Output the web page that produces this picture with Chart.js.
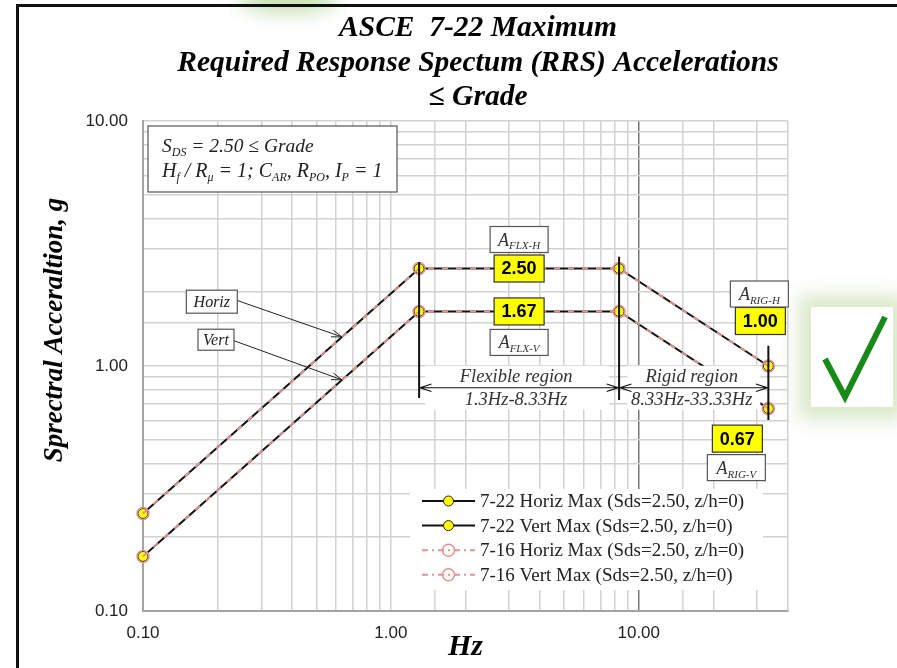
<!DOCTYPE html>
<html>
<head>
<meta charset="utf-8">
<script src="https://cdn.jsdelivr.net/npm/chart.js@4.4.1/dist/chart.umd.min.js"></script>
<style>
  html, body { margin: 0; padding: 0; background: #fff; }
  #page { position: relative; width: 897px; height: 668px; overflow: hidden; background: #fff; }
  #glowTop { position: absolute; left: 238px; top: -16px; width: 100px; height: 30px; background: rgba(165, 205, 135, 0.6); filter: blur(9px); border-radius: 50%; }
  #frame { position: absolute; left: 16px; top: 4px; width: 900px; height: 680px; border-top: 3px solid #111; border-left: 3px solid #111; }
  #chartBox { position: absolute; left: 0; top: 0; width: 897px; height: 668px; }
  #check { position: absolute; left: 811px; top: 307px; width: 82px; height: 100px; background: #fff; box-shadow: 0 0 18px 12px rgba(195, 220, 170, 0.65); }
</style>
</head>
<body>
<div id="page">
  <div id="glowTop"></div>
  <div id="frame"></div>
  <div id="chartBox"><canvas id="rrsChart"></canvas></div>
  <div id="check">
    <svg width="82" height="100" viewBox="0 0 82 100">
      <polyline points="14,52 34,90 74,10" fill="none" stroke="#178a17" stroke-width="6" stroke-linejoin="miter"/>
    </svg>
  </div>
</div>
<script>
// spectrum corner frequencies and accelerations
const freqHz = [0.1, 1.3, 8.33, 33.33];
const horiz722 = [0.25, 2.5, 2.5, 1.0];
const vert722 = [0.167, 1.67, 1.67, 0.67];
const horiz716 = [0.25, 2.5, 2.5, 1.0];
const vert716 = [0.167, 1.67, 1.67, 0.67];
const seriesNames = [
  '7-22 Horiz Max (Sds=2.50, z/h=0)',
  '7-22 Vert Max (Sds=2.50, z/h=0)',
  '7-16 Horiz Max (Sds=2.50, z/h=0)',
  '7-16 Vert Max (Sds=2.50, z/h=0)'
];
const xLabelledTicks = [0.1, 1, 10];
const yLabelledTicks = [0.1, 1, 10];

const SERIF = '"Liberation Serif", "Times New Roman", serif';
const SANS = '"Liberation Sans", Arial, sans-serif';

const BLACK = '#111';
const PINK = '#e39393';
const YELLOW = '#ffff00';

function pts(xs, ys) {
  return xs.map((x, i) => ({ x, y: ys[i] }));
}

function isLabelled(v, list) {
  return list.some(t => Math.abs(v - t) < 1e-9);
}

// text with subscripts: parts are [text, isSub]
function drawRich(ctx, parts, x, y, size, align) {
  const fontMain = `italic ${size}px ${SERIF}`;
  const fontSub = `italic ${Math.round(size * 0.62)}px ${SERIF}`;
  let w = 0;
  parts.forEach(([t, sub]) => {
    ctx.font = sub ? fontSub : fontMain;
    w += ctx.measureText(t).width;
  });
  let cx = align === 'center' ? x - w / 2 : x;
  ctx.textAlign = 'left';
  ctx.textBaseline = 'alphabetic';
  parts.forEach(([t, sub]) => {
    ctx.font = sub ? fontSub : fontMain;
    ctx.fillText(t, cx, sub ? y + size * 0.22 : y);
    cx += ctx.measureText(t).width;
  });
}

function box(ctx, cx, cy, w, h, fill, stroke) {
  ctx.fillStyle = fill;
  ctx.fillRect(cx - w / 2, cy - h / 2, w, h);
  ctx.strokeStyle = stroke;
  ctx.lineWidth = 1.2;
  ctx.strokeRect(cx - w / 2, cy - h / 2, w, h);
}

function arrow(ctx, x1, y1, x2, y2, head) {
  ctx.beginPath();
  ctx.moveTo(x1, y1);
  ctx.lineTo(x2, y2);
  const a = Math.atan2(y2 - y1, x2 - x1);
  ctx.moveTo(x2 - head * Math.cos(a - 0.32), y2 - head * Math.sin(a - 0.32));
  ctx.lineTo(x2, y2);
  ctx.lineTo(x2 - head * Math.cos(a + 0.32), y2 - head * Math.sin(a + 0.32));
  ctx.stroke();
}

// log-log interpolation on the rising branch
function onRise(vals, f) {
  const t = (Math.log10(f) - Math.log10(freqHz[0])) / (Math.log10(freqHz[1]) - Math.log10(freqHz[0]));
  return Math.pow(10, Math.log10(vals[0]) + t * (Math.log10(vals[1]) - Math.log10(vals[0])));
}

const decorPlugin = {
  id: 'decor',
  afterDatasetsDraw(chart) {
    const ctx = chart.ctx;
    const X = v => chart.scales.x.getPixelForValue(v);
    const Y = v => chart.scales.y.getPixelForValue(v);
    const area = chart.chartArea;
    ctx.save();

    // info box
    box(ctx, (148 + 397) / 2, (126 + 192) / 2, 249, 66, '#fff', '#555');
    ctx.fillStyle = '#222';
    drawRich(ctx, [['S', false], ['DS', true], [' = 2.50 ≤ Grade', false]], 162, 152, 19.5, 'left');
    drawRich(ctx, [['H', false], ['f', true], [' / R', false], ['μ', true], [' = 1; C', false], ['AR', true],
      [', R', false], ['PO', true], [', I', false], ['P', true], [' = 1', false]], 162, 177, 20, 'left');

    // flexible / rigid region bands
    const arrowY = Y(0.815);
    const fx1 = X(freqHz[1]), fx2 = X(freqHz[2]), fx3 = X(freqHz[3]);
    ctx.fillStyle = '#fff';
    ctx.fillRect(fx1 + 6, arrowY - 22, fx2 - fx1 - 16, 44);
    ctx.fillRect(fx2 + 8, arrowY - 22, fx3 - fx2 - 16, 44);

    ctx.strokeStyle = BLACK;
    ctx.lineWidth = 2;
    ctx.beginPath();
    ctx.moveTo(fx1, Y(2.66)); ctx.lineTo(fx1, Y(0.74));
    ctx.moveTo(fx2, Y(2.79)); ctx.lineTo(fx2, Y(0.727));
    ctx.moveTo(fx3, Y(1.21)); ctx.lineTo(fx3, Y(0.602));
    ctx.stroke();

    ctx.lineWidth = 1.2;
    arrow(ctx, (fx1 + fx2) / 2, arrowY, fx1 + 1, arrowY, 12);
    arrow(ctx, (fx1 + fx2) / 2, arrowY, fx2 - 1, arrowY, 12);
    arrow(ctx, (fx2 + fx3) / 2, arrowY, fx2 + 1, arrowY, 12);
    arrow(ctx, (fx2 + fx3) / 2, arrowY, fx3 - 1, arrowY, 12);

    ctx.fillStyle = '#333';
    ctx.font = `italic 18.5px ${SERIF}`;
    ctx.textAlign = 'center';
    ctx.textBaseline = 'middle';
    ctx.fillText('Flexible region', (fx1 + fx2) / 2 - 3, arrowY - 11);
    ctx.fillText('1.3Hz-8.33Hz', (fx1 + fx2) / 2 - 3, arrowY + 12);
    ctx.fillText('Rigid region', (fx2 + fx3) / 2 - 2, arrowY - 11);
    ctx.fillText('8.33Hz-33.33Hz', (fx2 + fx3) / 2 - 2, arrowY + 12);

    // value boxes
    const midX = X(Math.sqrt(freqHz[1] * freqHz[2]));
    const valueBox = (cx, cy, v) => {
      box(ctx, cx, cy, 50, 27, YELLOW, '#333');
      ctx.fillStyle = '#000';
      ctx.font = `bold 18px ${SANS}`;
      ctx.textAlign = 'center';
      ctx.textBaseline = 'middle';
      ctx.fillText(v.toFixed(2), cx, cy + 1);
    };
    const nameBox = (cx, cy, sub) => {
      box(ctx, cx, cy, 58, 26, '#fff', '#555');
      ctx.fillStyle = '#333';
      drawRich(ctx, [['A', false], [sub, true]], cx, cy + 6, 18, 'center');
    };
    valueBox(midX, Y(horiz722[1]), horiz722[1]);
    valueBox(midX, Y(vert722[1]), vert722[1]);
    nameBox(midX, Y(horiz722[1]) - 29, 'FLX-H');
    nameBox(midX, Y(vert722[1]) + 31, 'FLX-V');
    valueBox(fx3 - 8, Y(horiz722[3]) - 45, horiz722[3]);
    nameBox(fx3 - 9, Y(horiz722[3]) - 72, 'RIG-H');
    valueBox(fx3 - 31, Y(vert722[3]) + 30, vert722[3]);
    nameBox(fx3 - 32, Y(vert722[3]) + 59, 'RIG-V');

    // Horiz / Vert callouts
    const tipF = 0.635;
    const hx = X(0.1895), hy = Y(1.83);
    const vx = X(0.197), vy = Y(1.28);
    ctx.strokeStyle = '#222';
    ctx.lineWidth = 1;
    arrow(ctx, hx + 26, hy - 1, X(tipF), Y(onRise(horiz722, tipF)), 11);
    arrow(ctx, vx + 18, vy + 1, X(tipF), Y(onRise(vert722, tipF)), 11);
    box(ctx, hx, hy, 51, 23, '#fff', '#555');
    box(ctx, vx, vy, 36, 21, '#fff', '#555');
    ctx.fillStyle = '#222';
    ctx.font = `italic 16px ${SERIF}`;
    ctx.textAlign = 'center';
    ctx.textBaseline = 'middle';
    ctx.fillText('Horiz', hx, hy + 1);
    ctx.fillText('Vert', vx, vy + 1);

    // legend
    const lgRight = area.right - 25, lgBottom = area.bottom - 21;
    ctx.fillStyle = '#fff';
    ctx.fillRect(lgRight - 353, lgBottom - 101, 353, 101);
    chart.data.datasets.forEach((ds, i) => {
      const ry = lgBottom - 89 + i * 24.6;
      const x0 = lgRight - 341, x1 = lgRight - 288, mx = (x0 + x1) / 2;
      ctx.strokeStyle = ds.borderColor;
      ctx.lineWidth = 2;
      ctx.setLineDash(ds.legendDash || []);
      ctx.beginPath();
      ctx.moveTo(x0, ry); ctx.lineTo(x1, ry);
      ctx.stroke();
      ctx.setLineDash([]);
      ctx.beginPath();
      ctx.arc(mx, ry, ds.pointRadius, 0, Math.PI * 2);
      if (ds.pointBackgroundColor !== 'transparent') {
        ctx.fillStyle = ds.pointBackgroundColor;
        ctx.fill();
      }
      ctx.strokeStyle = ds.pointBorderColor;
      ctx.lineWidth = ds.pointBorderWidth;
      ctx.stroke();
      ctx.fillStyle = '#222';
      ctx.font = `19px ${SERIF}`;
      ctx.textAlign = 'left';
      ctx.textBaseline = 'middle';
      ctx.fillText(ds.label, x1 + 5, ry + 1);
    });

    ctx.restore();
  },
  afterDraw(chart) {
    const ctx = chart.ctx;
    const area = chart.chartArea;
    ctx.save();
    ctx.fillStyle = '#000';
    ctx.textAlign = 'center';
    ctx.textBaseline = 'middle';
    ctx.font = `bold italic 29.5px ${SERIF}`;
    ctx.fillText('ASCE  7-22 Maximum', 478, 28);
    ctx.fillText('Required Response Spectum (RRS) Accelerations', 478, 63);
    ctx.fillText('≤ Grade', 478, 97);

    ctx.font = `bold italic 30px ${SERIF}`;
    ctx.fillText('Hz', (area.left + area.right) / 2, 647);

    ctx.translate(55, 330);
    ctx.rotate(-Math.PI / 2);
    ctx.font = `bold italic 27px ${SERIF}`;
    ctx.fillText('Sprectral Acceraltion, g', 0, 0);
    ctx.restore();
  }
};

new Chart(document.getElementById('rrsChart'), {
  type: 'line',
  data: {
    datasets: [
      {
        label: seriesNames[0], data: pts(freqHz, horiz722), order: 2,
        borderColor: BLACK, borderWidth: 2,
        pointRadius: 5, pointBackgroundColor: YELLOW, pointBorderColor: '#222', pointBorderWidth: 1
      },
      {
        label: seriesNames[1], data: pts(freqHz, vert722), order: 2,
        borderColor: BLACK, borderWidth: 2,
        pointRadius: 5, pointBackgroundColor: YELLOW, pointBorderColor: '#222', pointBorderWidth: 1
      },
      {
        label: seriesNames[2], data: pts(freqHz, horiz716), order: 1,
        borderColor: PINK, borderWidth: 2, borderDash: [6, 8], legendDash: [6, 4, 2, 4],
        pointRadius: 6, pointBackgroundColor: 'transparent', pointBorderColor: PINK, pointBorderWidth: 1.5
      },
      {
        label: seriesNames[3], data: pts(freqHz, vert716), order: 1,
        borderColor: PINK, borderWidth: 2, borderDash: [6, 8], legendDash: [6, 4, 2, 4],
        pointRadius: 6, pointBackgroundColor: 'transparent', pointBorderColor: PINK, pointBorderWidth: 1.5
      }
    ]
  },
  options: {
    responsive: true,
    maintainAspectRatio: false,
    animation: false,
    events: [],
    clip: false,
    layout: { padding: { top: 121, right: 109, left: 0, bottom: 0 } },
    plugins: {
      legend: { display: false },
      title: { display: false },
      tooltip: { enabled: false }
    },
    scales: {
      x: {
        type: 'logarithmic',
        min: 0.1,
        max: 40,
        afterFit: s => { s.height = 57; },
        grid: {
          drawTicks: false,
          color: ctx => Math.abs(ctx.tick.value - 10) < 1e-9 ? '#777' : '#d2d2d2',
          lineWidth: 1.5
        },
        border: { color: '#a3a3a3', width: 2 },
        ticks: {
          autoSkip: false,
          maxRotation: 0,
          padding: 12,
          color: '#222',
          font: { family: SANS, size: 17 },
          callback: v => isLabelled(v, xLabelledTicks) ? v.toFixed(2) : ''
        }
      },
      y: {
        type: 'logarithmic',
        min: 0.1,
        max: 10,
        afterFit: s => { s.width = 143; },
        grid: {
          drawTicks: false,
          color: '#d2d2d2',
          lineWidth: 1.5
        },
        border: { color: '#a3a3a3', width: 2 },
        ticks: {
          autoSkip: false,
          padding: 15,
          color: '#222',
          font: { family: SANS, size: 17 },
          callback: v => isLabelled(v, yLabelledTicks) ? v.toFixed(2) : ''
        }
      }
    }
  },
  plugins: [decorPlugin]
});
</script>
</body>
</html>
